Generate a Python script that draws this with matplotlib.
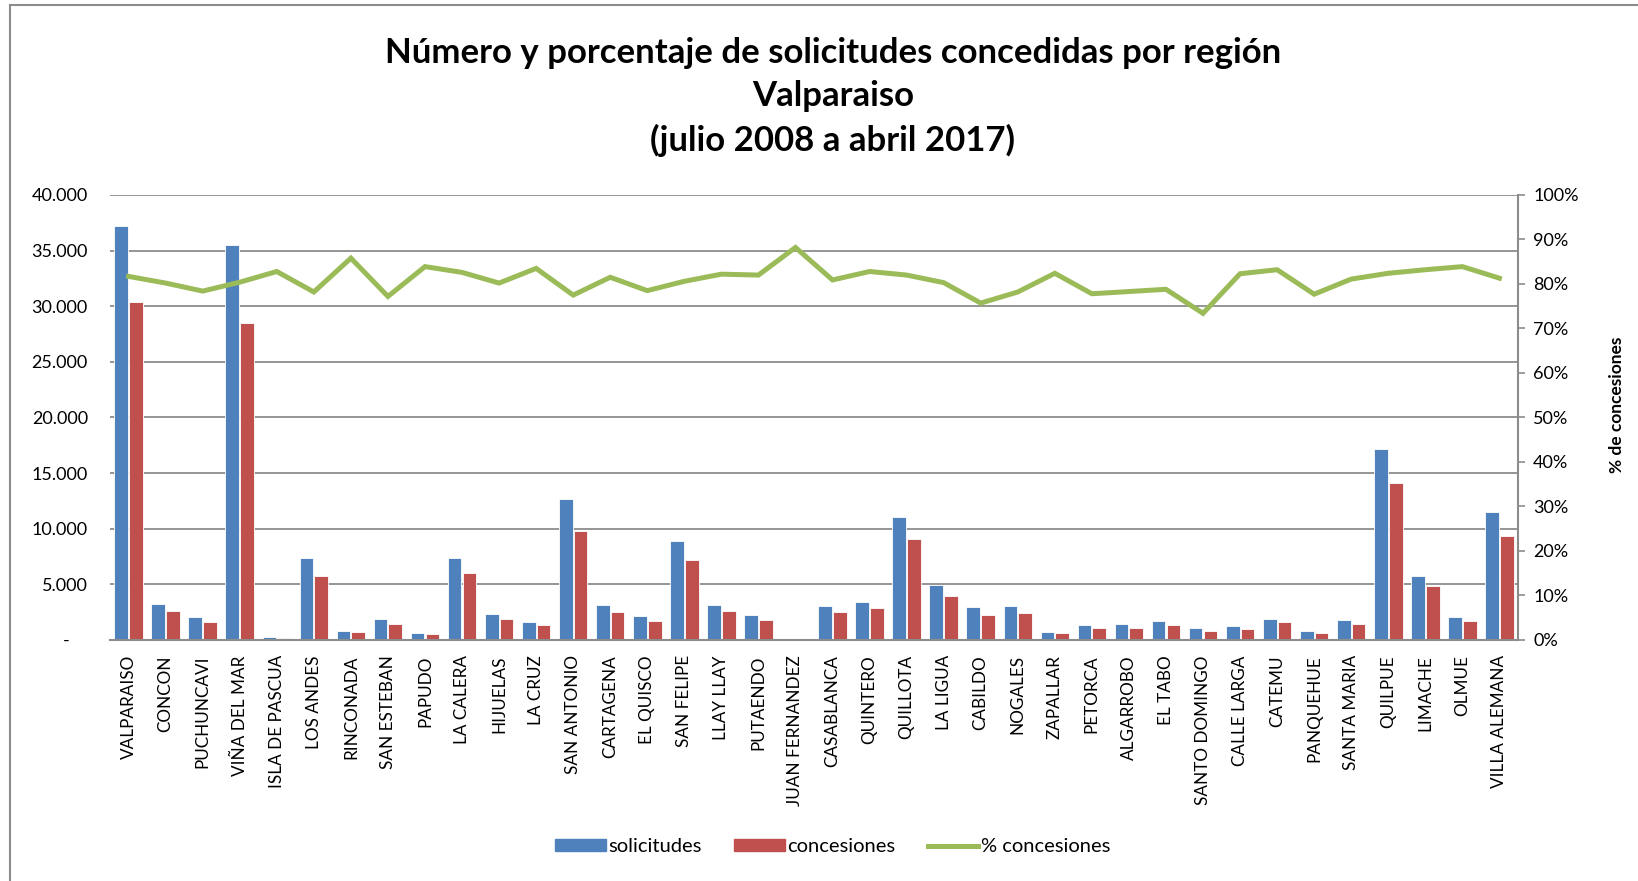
import matplotlib.pyplot as plt
import matplotlib.ticker as mticker
from matplotlib.patches import Patch
from matplotlib.lines import Line2D

plt.rcParams['font.family'] = ['Lato', 'DejaVu Sans']

comunas = ["VALPARAISO", "CONCON", "PUCHUNCAVI", "VIÑA DEL MAR", "ISLA DE PASCUA",
           "LOS ANDES", "RINCONADA", "SAN ESTEBAN", "PAPUDO", "LA CALERA", "HIJUELAS",
           "LA CRUZ", "SAN ANTONIO", "CARTAGENA", "EL QUISCO", "SAN FELIPE", "LLAY LLAY",
           "PUTAENDO", "JUAN FERNANDEZ", "CASABLANCA", "QUINTERO", "QUILLOTA", "LA LIGUA",
           "CABILDO", "NOGALES", "ZAPALLAR", "PETORCA", "ALGARROBO", "EL TABO",
           "SANTO DOMINGO", "CALLE LARGA", "CATEMU", "PANQUEHUE", "SANTA MARIA",
           "QUILPUE", "LIMACHE", "OLMUE", "VILLA ALEMANA"]

solicitudes = [37180, 3200, 2090, 35500, 300, 7370, 840, 1915, 590, 7370, 2360,
               1620, 12640, 3150, 2160, 8930, 3170, 2270, 17, 3080, 3420, 11080,
               4940, 2970, 3060, 750, 1380, 1440, 1740, 1080, 1290, 1920, 840,
               1770, 17160, 5780, 2100, 11530]

concesiones = [30410, 2570, 1645, 28520, 220, 5750, 720, 1465, 500, 6050, 1850,
               1310, 9800, 2540, 1670, 7220, 2610, 1830, 15, 2480, 2840, 9080,
               3920, 2250, 2390, 630, 1080, 1110, 1380, 810, 1020, 1620, 660,
               1440, 14100, 4820, 1740, 9340]

pct_concesiones = [81.7, 80.2, 78.4, 80.4, 82.8, 78.2, 85.8, 77.2, 83.9, 82.6, 80.2,
                   83.5, 77.5, 81.5, 78.5, 80.6, 82.2, 82.0, 88.2, 80.9, 82.8, 82.0,
                   80.3, 75.7, 78.2, 82.4, 77.8, 78.3, 78.8, 73.4, 82.3, 83.2, 77.7,
                   81.1, 82.4, 83.2, 83.9, 81.3]

azul = "#4F81BD"
rojo = "#C0504D"
verde = "#9BBB59"
gris = "#8C8C8C"

fig = plt.figure(figsize=(16.38, 8.81), dpi=100)
ax = fig.add_axes([0.0672, 0.2736, 0.8595, 0.5051])

x = list(range(len(comunas)))
ax.bar([i - 0.2 for i in x], solicitudes, width=0.37, color=azul,
       edgecolor="white", linewidth=0.6, label="solicitudes")
ax.bar([i + 0.2 for i in x], concesiones, width=0.37, color=rojo,
       edgecolor="white", linewidth=0.6, label="concesiones")

ax.set_xlim(-0.5, len(comunas) - 0.5)
ax.set_ylim(0, 40000)
ax.set_yticks(range(0, 40001, 5000))
ax.yaxis.set_major_formatter(mticker.FuncFormatter(
    lambda v, p: "-    " if v == 0 else f"{int(v):,}".replace(",", ".")))
ax.set_xticks(x)
ax.set_xticklabels(comunas, rotation=90, fontsize=12.3)
ax.tick_params(axis="x", length=0, pad=11)
ax.tick_params(axis="y", length=0, pad=16, labelsize=13)
ax.set_axisbelow(True)
ax.yaxis.grid(True, color=gris, linewidth=1.3)
for s in ["top", "left", "right"]:
    ax.spines[s].set_visible(False)
ax.spines["bottom"].set_color(gris)
ax.spines["bottom"].set_linewidth(1.5)

ax2 = ax.twinx()
ax2.plot(x, pct_concesiones, color=verde, linewidth=3.6, solid_joinstyle="miter",
         label="% concesiones")
ax2.set_ylim(0, 100)
ax2.set_yticks(range(0, 101, 10))
ax2.yaxis.set_major_formatter(mticker.FuncFormatter(lambda v, p: f"{int(v)}%"))
ax2.tick_params(axis="y", direction="out", length=5, width=1.2, color=gris,
                pad=6, labelsize=13)
for s in ["top", "left", "bottom"]:
    ax2.spines[s].set_visible(False)
ax2.spines["right"].set_color(gris)
ax2.spines["right"].set_linewidth(1.5)

fig.text(0.987, 0.541, "% de concesiones", rotation=90, ha="center", va="center",
         fontsize=12.5, fontweight="bold")

fig.text(0.5085, 0.890,
         "Número y porcentaje de solicitudes concedidas por región\nValparaiso\n(julio 2008 a abril 2017)",
         ha="center", va="center", fontsize=25, fontweight="bold", linespacing=1.43)

handles = [Patch(color=azul, label="solicitudes"),
           Patch(color=rojo, label="concesiones"),
           Line2D([0], [0], color=verde, linewidth=3.6, label="% concesiones")]
fig.legend(handles=handles, loc="center", bbox_to_anchor=(0.5085, 0.039), ncol=3,
           frameon=False, fontsize=14.5, handlelength=2.5, handleheight=0.55,
           columnspacing=1.6, handletextpad=0.15)

fig.add_artist(Line2D([10 / 1638, 10 / 1638], [0, 1 - 5 / 881], color=gris,
                      linewidth=1.5, transform=fig.transFigure))
fig.add_artist(Line2D([10 / 1638, 1], [1 - 5 / 881, 1 - 5 / 881], color=gris,
                      linewidth=1.5, transform=fig.transFigure))

fig.savefig("out.png", dpi=100)
